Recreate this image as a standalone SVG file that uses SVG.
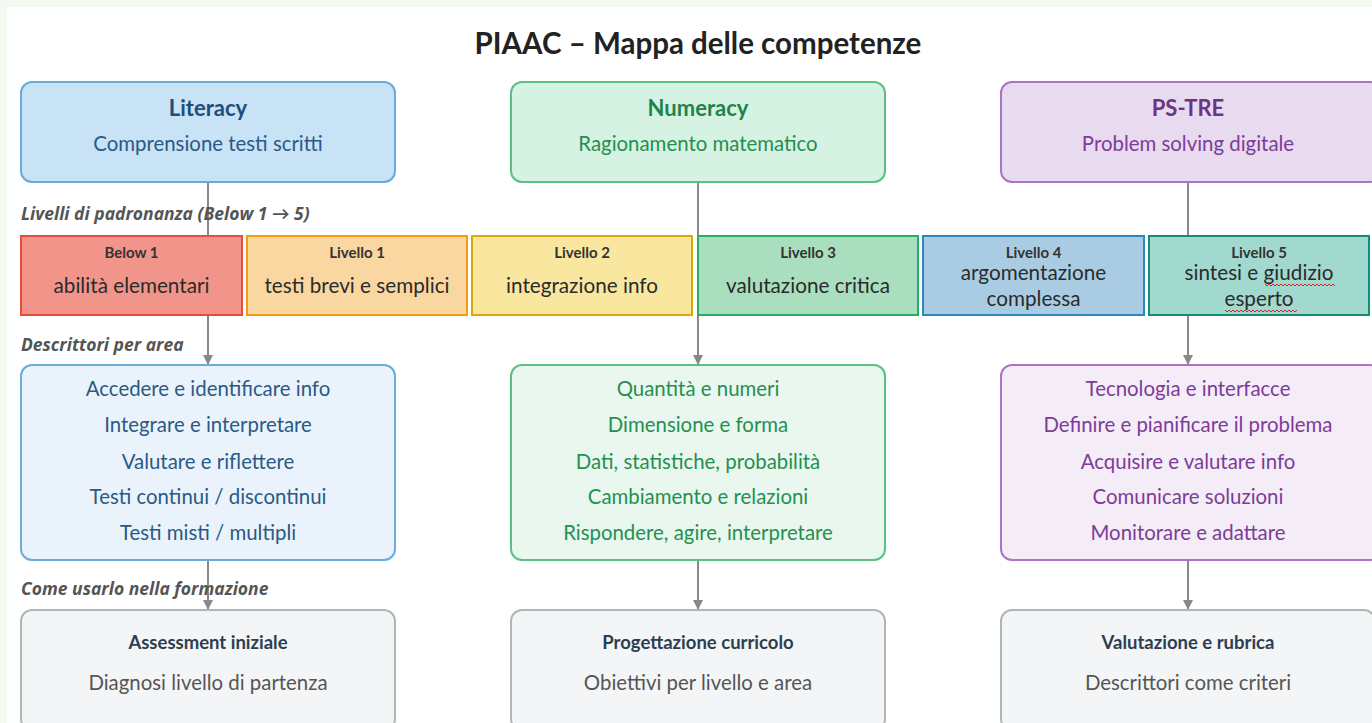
<svg xmlns="http://www.w3.org/2000/svg" width="1372" height="723" viewBox="0 0 1372 723">
<defs>
<marker id="arr" markerWidth="12" markerHeight="12" refX="10" refY="5" orient="auto" markerUnits="userSpaceOnUse" viewBox="0 0 12 12">
<path d="M0,0 L10,5 L0,10 Z" fill="#888"/>
</marker>
<style>
text{font-family:Lato,"Noto Sans","Liberation Sans",sans-serif;text-anchor:middle}
.conn line{stroke:#888;stroke-width:2}
.top rect{stroke-width:2}
.ttl{font-weight:bold;font-size:22px}
.sub{font-size:20.4px}
.lvl rect{stroke-width:2}
.lh{font-weight:bold;font-size:15px;fill:#333}
.lt{font-size:20.7px;fill:#2b2b2b}
.sec{font-family:"Open Sans",Lato,sans-serif;font-size:17.5px;font-weight:bold;font-style:italic;fill:#555;text-anchor:start}
.bot rect{fill:#f4f5f7;stroke:#aeb7b8;stroke-width:2}
.bt{font-weight:bold;font-size:18.5px;fill:#2c3e50}
.bs{font-size:20.4px;fill:#555}
.sq{fill:none;stroke:#e02020;stroke-width:1}
</style>
</defs>
<rect x="0" y="0" width="1372" height="723" fill="#f3f8f1"/>
<rect x="7" y="7" width="1365" height="716" fill="#ffffff"/>
<text x="698" y="54" style="font-weight:bold;font-size:29.5px;fill:#222">PIAAC – Mappa delle competenze</text>

<g class="conn">
<line x1="208" y1="182" x2="208" y2="365" marker-end="url(#arr)"/>
<line x1="698" y1="182" x2="698" y2="365" marker-end="url(#arr)"/>
<line x1="1188" y1="182" x2="1188" y2="365" marker-end="url(#arr)"/>
<line x1="208" y1="560" x2="208" y2="610" marker-end="url(#arr)"/>
<line x1="698" y1="560" x2="698" y2="610" marker-end="url(#arr)"/>
<line x1="1188" y1="560" x2="1188" y2="610" marker-end="url(#arr)"/>
</g>

<g id="literacy" class="top">
<rect x="21" y="82" width="374" height="100" rx="11" fill="#c8e2f6" stroke="#6aaad8"/>
<text x="208" y="116" class="ttl" fill="#1f4e79">Literacy</text>
<text x="208" y="151" class="sub" fill="#2a5a85">Comprensione testi scritti</text>
</g>
<g id="numeracy" class="top">
<rect x="511" y="82" width="374" height="100" rx="11" fill="#d5f2e2" stroke="#5cc082"/>
<text x="698" y="116" class="ttl" fill="#1e8449">Numeracy</text>
<text x="698" y="151" class="sub" fill="#24904f">Ragionamento matematico</text>
</g>
<g id="pstre" class="top">
<rect x="1001" y="82" width="380" height="100" rx="11" fill="#e8daef" stroke="#ad72c7"/>
<text x="1188" y="116" class="ttl" fill="#6c3483">PS-TRE</text>
<text x="1188" y="151" class="sub" fill="#7d3c98">Problem solving digitale</text>
</g>

<text x="21" y="220" class="sec">Livelli di padronanza (Below 1 → 5)</text>
<text x="21" y="351" class="sec">Descrittori per area</text>
<text x="21" y="595" class="sec">Come usarlo nella formazione</text>

<g id="lvl-below1" class="lvl">
<rect x="21" y="236" width="221" height="79" fill="#f1948a" stroke="#e74c3c"/>
<text x="131.5" y="258" class="lh">Below 1</text>
<text x="131.5" y="293" class="lt">abilità elementari</text>
</g>
<g id="lvl-1" class="lvl">
<rect x="247" y="236" width="220" height="79" fill="#fad7a0" stroke="#f39c12"/>
<text x="357" y="258" class="lh">Livello 1</text>
<text x="357" y="293" class="lt">testi brevi e semplici</text>
</g>
<g id="lvl-2" class="lvl">
<rect x="472" y="236" width="220" height="79" fill="#f9e79f" stroke="#d4ac0d"/>
<text x="582" y="258" class="lh">Livello 2</text>
<text x="582" y="293" class="lt">integrazione info</text>
</g>
<g id="lvl-3" class="lvl">
<rect x="698" y="236" width="220" height="79" fill="#a9dfbf" stroke="#27ae60"/>
<text x="808" y="258" class="lh">Livello 3</text>
<text x="808" y="293" class="lt">valutazione critica</text>
</g>
<g id="lvl-4" class="lvl">
<rect x="923" y="236" width="221" height="79" fill="#a9cce3" stroke="#2e86c1"/>
<text x="1033.5" y="258" class="lh">Livello 4</text>
<text x="1033.5" y="280" class="lt">argomentazione</text>
<text x="1033.5" y="306" class="lt">complessa</text>
</g>
<g id="lvl-5" class="lvl">
<rect x="1149" y="236" width="220" height="79" fill="#a2d9ce" stroke="#148f77"/>
<text x="1259" y="258" class="lh">Livello 5</text>
<text x="1259" y="280" class="lt">sintesi e giudizio</text>
<text x="1259" y="306" class="lt">esperto</text>
<path class="sq" d="M1265,284 l2,2 l2,-2 l2,2 l2,-2 l2,2 l2,-2 l2,2 l2,-2 l2,2 l2,-2 l2,2 l2,-2 l2,2 l2,-2 l2,2 l2,-2 l2,2 l2,-2 l2,2 l2,-2 l2,2 l2,-2 l2,2 l2,-2 l2,2 l2,-2 l2,2 l2,-2 l2,2 l2,-2 l2,2 l2,-2 l2,2 l2,-2 l2,2"/>
<path class="sq" d="M1225,310 l2,2 l2,-2 l2,2 l2,-2 l2,2 l2,-2 l2,2 l2,-2 l2,2 l2,-2 l2,2 l2,-2 l2,2 l2,-2 l2,2 l2,-2 l2,2 l2,-2 l2,2 l2,-2 l2,2 l2,-2 l2,2 l2,-2 l2,2 l2,-2 l2,2 l2,-2 l2,2 l2,-2 l2,2 l2,-2 l2,2 l2,-2 l2,2 l2,-2"/>
</g>

<g id="desc-literacy">
<rect x="21" y="365" width="374" height="195" rx="11" fill="#eaf3fb" stroke="#69acdb" stroke-width="2"/>
<g class="sub" fill="#2a5a85">
<text x="208" y="396">Accedere e identificare info</text>
<text x="208" y="432">Integrare e interpretare</text>
<text x="208" y="469">Valutare e riflettere</text>
<text x="208" y="504">Testi continui / discontinui</text>
<text x="208" y="540">Testi misti / multipli</text>
</g>
</g>
<g id="desc-numeracy">
<rect x="511" y="365" width="374" height="195" rx="11" fill="#e9f7ef" stroke="#5cc082" stroke-width="2"/>
<g class="sub" fill="#24904f">
<text x="698" y="396">Quantità e numeri</text>
<text x="698" y="432">Dimensione e forma</text>
<text x="698" y="469">Dati, statistiche, probabilità</text>
<text x="698" y="504">Cambiamento e relazioni</text>
<text x="698" y="540">Rispondere, agire, interpretare</text>
</g>
</g>
<g id="desc-pstre">
<rect x="1001" y="365" width="380" height="195" rx="11" fill="#f4ecf7" stroke="#ad72c7" stroke-width="2"/>
<g class="sub" fill="#7d3c98">
<text x="1188" y="396">Tecnologia e interfacce</text>
<text x="1188" y="432">Definire e pianificare il problema</text>
<text x="1188" y="469">Acquisire e valutare info</text>
<text x="1188" y="504">Comunicare soluzioni</text>
<text x="1188" y="540">Monitorare e adattare</text>
</g>
</g>

<g id="use-assessment" class="bot">
<rect x="21" y="610" width="374" height="120" rx="11"/>
<text x="208" y="649" class="bt">Assessment iniziale</text>
<text x="208" y="690" class="bs">Diagnosi livello di partenza</text>
</g>
<g id="use-curricolo" class="bot">
<rect x="511" y="610" width="374" height="120" rx="11"/>
<text x="698" y="649" class="bt">Progettazione curricolo</text>
<text x="698" y="690" class="bs">Obiettivi per livello e area</text>
</g>
<g id="use-rubrica" class="bot">
<rect x="1001" y="610" width="374" height="120" rx="11"/>
<text x="1188" y="649" class="bt">Valutazione e rubrica</text>
<text x="1188" y="690" class="bs">Descrittori come criteri</text>
</g>
</svg>
